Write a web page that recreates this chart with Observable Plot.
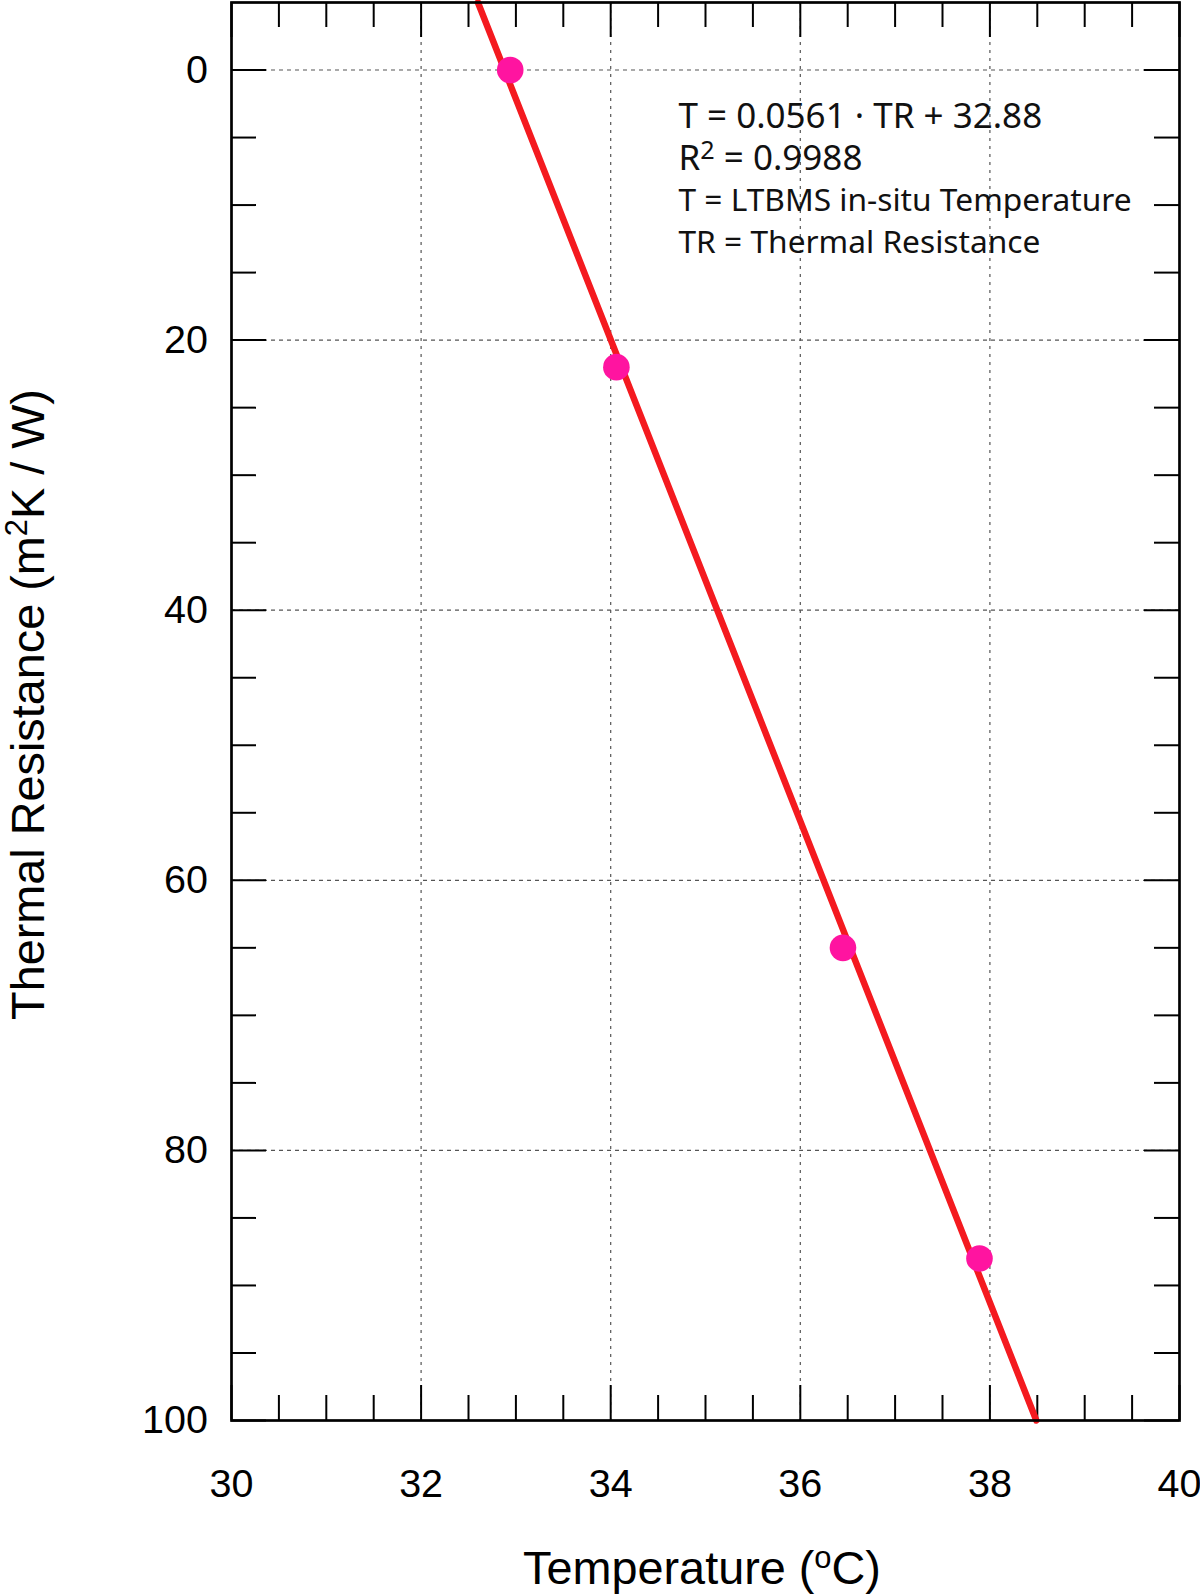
<!DOCTYPE html>
<html><head><meta charset="utf-8">
<script src="https://cdn.jsdelivr.net/npm/d3@7"></script>
<script src="https://cdn.jsdelivr.net/npm/@observablehq/plot@0.6"></script>
<style>body{margin:0;background:#fff;}</style>
</head><body><div id="chart"></div>
<script>
// Data
const temperature = [32.94, 34.06, 36.45, 37.89];
const thermalResistance = [0, 22, 65, 88];
const fitSlope = 0.0561;
const fitIntercept = 32.88;
const xDomain = [30, 40];
const yDomain = [-5, 100];
const xMajorTicks = [30, 32, 34, 36, 38, 40];
const xMinorTicks = [30.5, 31, 31.5, 32.5, 33, 33.5, 34.5, 35, 35.5, 36.5, 37, 37.5, 38.5, 39, 39.5];
const yMajorTicks = [0, 20, 40, 60, 80, 100];
const yMinorTicks = [5, 10, 15, 25, 30, 35, 45, 50, 55, 65, 70, 75, 85, 90, 95];
const xGridTicks = [32, 34, 36, 38];
const yGridTicks = [0, 20, 40, 60, 80];
const xTitle = "Temperature (^oC)";
const yTitle = "Thermal Resistance (m^2K / W)";
const annotationLines = [
  "T = 0.0561 · TR + 32.88",
  "R^2 = 0.9988",
  "T = LTBMS in-situ Temperature",
  "TR = Thermal Resistance"
];

const points = temperature.map((t, i) => ({T: t, TR: thermalResistance[i]}));
const fitLine = yDomain.map(tr => ({TR: tr, T: fitSlope * tr + fitIntercept}));

const W = 1200, H = 1595, mL = 231, mR = 21, mT = 2, mB = 175;
const plotW = W - mL - mR, plotH = H - mT - mB;
const tickFont = "'Liberation Sans', Arial, sans-serif";
const annFont = "'Noto Sans', sans-serif";

const annotationMarks = annotationLines.map((s, i) =>
  Plot.text([s], {
    text: d => d, frameAnchor: "top-left", textAnchor: "start", lineAnchor: "bottom",
    dx: 447, dy: 125.5 + i * 41.5, fontSize: i < 2 ? 35 : 31.7, fontFamily: annFont, fill: "#111"
  })
);

const chart = Plot.plot({
  width: W, height: H,
  marginLeft: mL, marginRight: mR, marginTop: mT, marginBottom: mB,
  style: {fontFamily: tickFont, fontSize: "39.5px", background: "white", color: "black"},
  x: {domain: xDomain},
  y: {domain: yDomain, reverse: true},
  marks: [
    Plot.ruleX(xGridTicks, {x: d => d, stroke: "#555", strokeWidth: 1.2, strokeDasharray: "3,5"}),
    Plot.ruleY(yGridTicks, {y: d => d, stroke: "#555", strokeWidth: 1.2, strokeDasharray: "4,4"}),
    // inward minor ticks
    Plot.tickX(xMinorTicks, {x: d => d, insetTop: plotH - 25, stroke: "black", strokeWidth: 2}),
    Plot.tickX(xMinorTicks, {x: d => d, insetBottom: plotH - 25, stroke: "black", strokeWidth: 2}),
    Plot.tickY(yMinorTicks, {y: d => d, insetRight: plotW - 25, stroke: "black", strokeWidth: 2}),
    Plot.tickY(yMinorTicks, {y: d => d, insetLeft: plotW - 25, stroke: "black", strokeWidth: 2}),
    // inward major ticks
    Plot.tickX(xMajorTicks, {x: d => d, insetTop: plotH - 35, stroke: "black", strokeWidth: 2}),
    Plot.tickX(xMajorTicks, {x: d => d, insetBottom: plotH - 35, stroke: "black", strokeWidth: 2}),
    Plot.tickY(yMajorTicks, {y: d => d, insetRight: plotW - 35, stroke: "black", strokeWidth: 2}),
    Plot.tickY(yMajorTicks, {y: d => d, insetLeft: plotW - 35, stroke: "black", strokeWidth: 2}),
    Plot.line(fitLine, {x: "T", y: "TR", stroke: "#f41a1f", strokeWidth: 6.5}),
    Plot.dot(points, {x: "T", y: "TR", r: 13.3, fill: "#ff14a0", stroke: "none"}),
    Plot.frame({stroke: "black", strokeWidth: 2.7}),
    Plot.axisX(xMajorTicks, {anchor: "bottom", tickSize: 0, tickPadding: 48, label: null, fontSize: 39.5}),
    Plot.axisY(yMajorTicks, {anchor: "left", tickSize: 0, tickPadding: 23.5, label: null, fontSize: 39.5}),
    Plot.text([xTitle], {text: d => d, frameAnchor: "bottom", dx: -3.5, dy: 149, lineAnchor: "middle", textAnchor: "middle", fontSize: 46.8}),
    Plot.text([yTitle], {text: d => d, frameAnchor: "left", rotate: -90, dx: -202.5, dy: -7, lineAnchor: "middle", textAnchor: "middle", fontSize: 46.8}),
    ...annotationMarks
  ]
});

document.getElementById("chart").appendChild(chart);

// Render "^x" as a superscript tspan
for (const t of chart.querySelectorAll("text")) {
  const s = t.textContent;
  if (!s.includes("^")) continue;
  const fs = parseFloat(getComputedStyle(t).fontSize);
  const small = fs < 40;
  const size = small ? 0.72 : 0.66;
  const shift = small ? 0.29 : 0.36;
  const parts = s.split(/\^(.)/);
  t.textContent = "";
  let pending = 0;
  parts.forEach((p, i) => {
    if (!p) return;
    const ts = document.createElementNS("http://www.w3.org/2000/svg", "tspan");
    ts.textContent = p;
    if (i % 2 === 1) {
      ts.setAttribute("font-size", fs * size);
      ts.setAttribute("dy", -fs * shift);
      pending = fs * shift;
    } else if (pending) {
      ts.setAttribute("dy", pending);
      pending = 0;
    }
    t.appendChild(ts);
  });
}
</script>
</body></html>
